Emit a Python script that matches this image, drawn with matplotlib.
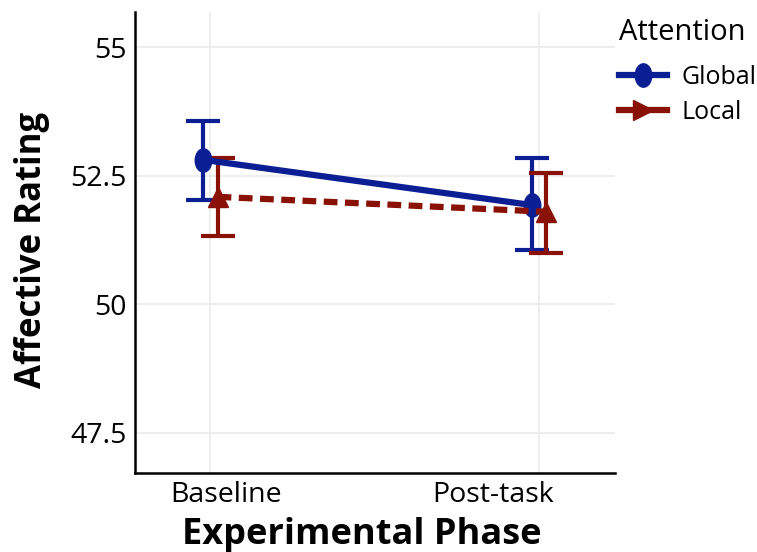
import matplotlib.pyplot as plt
from matplotlib.lines import Line2D
from matplotlib.markers import MarkerStyle
from matplotlib.transforms import Affine2D, ScaledTranslation

plt.rcParams['font.family'] = ['Open Sans', 'DejaVu Sans']

# data
phases = ['Baseline', 'Post-task']
global_mean = [52.81, 51.93]
global_lo = [52.03, 51.06]
global_hi = [53.56, 52.84]
local_mean = [52.09, 51.80]
local_lo = [51.33, 51.00]
local_hi = [52.84, 52.55]

blue = '#0B1E93'
red = '#8A1105'
dodge = 0.022

fig = plt.figure(figsize=(7.57, 5.52), dpi=100)
ax = fig.add_axes([0.178, 0.143, 0.634, 0.835])

xs = [1, 2]
xg = [x - dodge for x in xs]
xl = [x + dodge for x in xs]

oval = MarkerStyle('o', transform=Affine2D().scale(0.85, 1.2))

ax.errorbar(xg, global_mean,
            yerr=[[m - l for m, l in zip(global_mean, global_lo)],
                  [h - m for m, h in zip(global_mean, global_hi)]],
            fmt='none', ecolor=blue, elinewidth=3, capsize=12, capthick=3, zorder=3)
ax.errorbar(xl, local_mean,
            yerr=[[m - l for m, l in zip(local_mean, local_lo)],
                  [h - m for m, h in zip(local_mean, local_hi)]],
            fmt='none', ecolor=red, elinewidth=3, capsize=12, capthick=3, zorder=3)
ax.plot(xg, global_mean, color=blue, lw=4.5, marker=oval, ms=14, zorder=4)
ax.plot(xl, local_mean, color=red, lw=4.5, ls=(0, (2.2, 1.2)), marker='^', ms=14, zorder=4)

ax.set_xlim(0.77, 2.23)
ax.set_ylim(46.72, 55.68)
ax.set_xticks(xs)
ax.set_xticklabels(phases)
ax.set_yticks([47.5, 50, 52.5, 55])
ax.set_yticklabels(['47.5', '50', '52.5', '55'])
ax.tick_params(length=0, labelsize=20.5, colors='black')
ax.tick_params(axis='y', pad=6)
ax.tick_params(axis='x', pad=6)
# tick labels in the reference sit a little off their grid lines
for lab, dx in zip(ax.get_xticklabels(), [16, -46]):
    lab.set_transform(lab.get_transform() + ScaledTranslation(dx / 100, 0, fig.dpi_scale_trans))
ax.grid(True, color='#EBEBEB', lw=1.2)
ax.set_axisbelow(True)
for s in ['top', 'right']:
    ax.spines[s].set_visible(False)
for s in ['left', 'bottom']:
    ax.spines[s].set_linewidth(1.8)

ax.set_xlabel('Experimental Phase', fontsize=26, fontweight='bold')
ax.xaxis.set_label_coords(0.473, -0.095)
ax.set_ylabel('Affective Rating', fontsize=25, fontweight='bold')
ax.yaxis.set_label_coords(-0.177, 0.485)

handles = [Line2D([], [], color=blue, lw=4.5, marker=oval, ms=14),
           Line2D([], [], color=red, lw=4.5, marker='>', ms=14)]
leg = fig.legend(handles, ['Global', 'Local'], title='Attention', loc='upper left',
                 bbox_to_anchor=(0.805, 0.986), frameon=False, fontsize=18,
                 title_fontsize=21, handlelength=1.9, handletextpad=0.6, labelspacing=0.4,
                 borderaxespad=0)
leg._legend_box.align = 'left'
leg._legend_box.sep = 13

fig.savefig('out.png', dpi=100)
